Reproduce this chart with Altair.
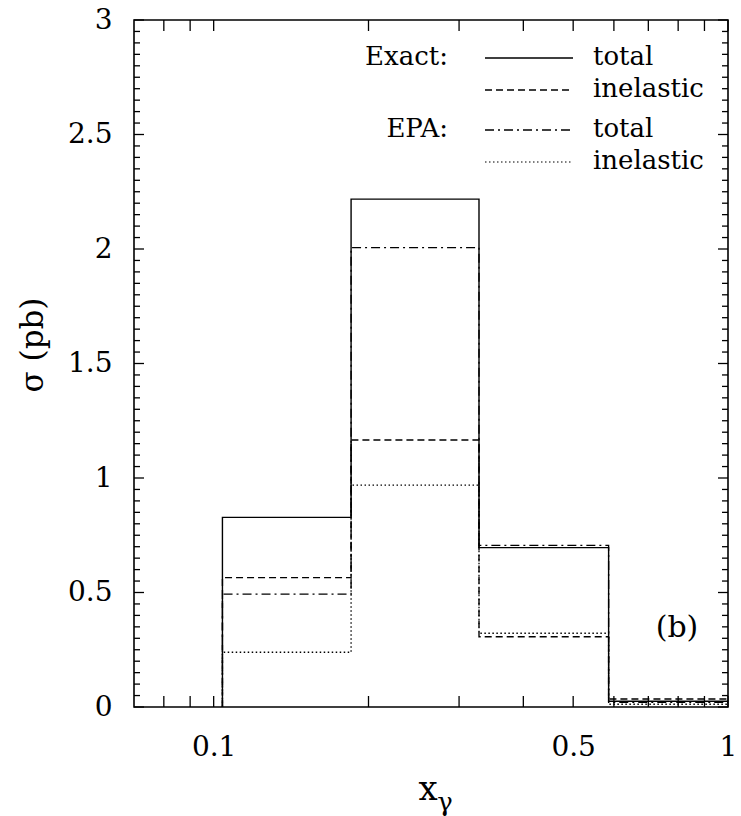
import altair as alt
import pandas as pd

# ---- data ----
bin_edges = [0.104, 0.185, 0.328, 0.586, 1.0]
exact_total = [0.828, 2.218, 0.696, 0.025]
exact_inelastic = [0.565, 1.166, 0.307, 0.035]
epa_total = [0.493, 2.006, 0.706, 0.020]
epa_inelastic = [0.239, 0.969, 0.322, 0.012]

series_names = ["Exact total", "Exact inelastic", "EPA total", "EPA inelastic"]
series_values = [exact_total, exact_inelastic, epa_total, epa_inelastic]

x_tick_values = [0.08, 0.09, 0.1, 0.2, 0.3, 0.4, 0.5, 0.6, 0.7, 0.8, 0.9, 1.0]
x_label_values = [0.1, 0.5, 1]
y_major_values = [0, 0.5, 1, 1.5, 2, 2.5, 3]
y_minor_values = [round(i * 0.05, 2) for i in range(61) if i % 10 != 0]

# ---- layout ----
W, H = 594, 687
FONT = "DejaVu Serif"
FS = 28
LFS = 26

rows = []
for name, vals in zip(series_names, series_values):
    pts = [(bin_edges[0], 0.0)] + [(bin_edges[i], vals[i]) for i in range(len(vals))] + [(bin_edges[-1], vals[-1])]
    for k, (xv, yv) in enumerate(pts):
        rows.append({"series": name, "x": xv, "y": yv, "i": k})
hist = pd.DataFrame(rows)

xscale = alt.Scale(type="log", domain=[0.07, 1.0], nice=False)
yscale = alt.Scale(domain=[0, 3], nice=False, zero=False)

x_axis = alt.Axis(values=x_label_values, format="~g", title=None, ticks=False,
                  tickSize=0, domain=False, grid=False, labelFont=FONT,
                  labelFontSize=FS, labelColor="black", labelPadding=26,
                  labelFlush=False, labelOverlap=False)
y_axis = alt.Axis(values=y_major_values, format="~g", title=None, ticks=False,
                  tickSize=0, domain=False, grid=False, labelFont=FONT,
                  labelFontSize=FS, labelColor="black", labelPadding=22,
                  labelOverlap=False)

dash_scale = alt.Scale(domain=series_names,
                       range=[[1, 0], [7, 4], [9, 4, 2, 4], [1.5, 2.5]])
width_scale = alt.Scale(domain=series_names, range=[1.4, 1.3, 1.3, 1.2])

lines = alt.Chart(hist).mark_line(interpolate="step-after", color="black").encode(
    x=alt.X("x:Q", scale=xscale, axis=x_axis),
    y=alt.Y("y:Q", scale=yscale, axis=y_axis),
    strokeDash=alt.StrokeDash("series:N", scale=dash_scale, legend=None),
    strokeWidth=alt.StrokeWidth("series:N", scale=width_scale, legend=None),
    detail="series:N",
    order="i:Q",
)

xt = pd.DataFrame({"x": x_tick_values})
ymaj = pd.DataFrame({"y": y_major_values})
ymin = pd.DataFrame({"y": y_minor_values})

def xtick(y1, y2):
    return alt.Chart(xt).mark_rule(color="black", strokeWidth=1.3).encode(
        x=alt.X("x:Q", scale=xscale, axis=x_axis),
        y=alt.value(y1), y2=alt.value(y2))

def ytick(df, x1, x2):
    return alt.Chart(df).mark_rule(color="black", strokeWidth=1.3).encode(
        y=alt.Y("y:Q", scale=yscale, axis=y_axis),
        x=alt.value(x1), x2=alt.value(x2))

ticks = [
    xtick(H, H - 11), xtick(0, 11),
    ytick(ymaj, 0, 10), ytick(ymaj, W - 10, W),
    ytick(ymin, 0, 6), ytick(ymin, W - 6, W),
]

one = pd.DataFrame({"a": [0]})

def text(s, x, y, align="left", size=LFS, angle=None):
    kw = dict(align=align, baseline="middle", font=FONT, fontSize=size, color="black")
    if angle is not None:
        kw["angle"] = angle
    return alt.Chart(one).mark_text(**kw).encode(
        x=alt.value(x), y=alt.value(y), text=alt.value(s))

def sample(y, dash, sw):
    return alt.Chart(one).mark_rule(color="black", strokeDash=dash, strokeWidth=sw).encode(
        x=alt.value(351), x2=alt.value(439), y=alt.value(y))

legend = [
    text("Exact:", 314, 37, align="right"),
    sample(38, [1, 0], 1.4), text("total", 459, 37),
    sample(70, [7, 4], 1.3), text("inelastic", 459, 69),
    text("EPA:", 314, 109, align="right"),
    sample(110, [9, 4, 2, 4], 1.3), text("total", 459, 109),
    sample(142, [1.5, 2.5], 1.2), text("inelastic", 459, 141),
    text("(b)", 543, 608, align="center", size=30),
]

titles = [
    text("x", 294, 770, align="center", size=34),
    text("γ", 311, 783, align="center", size=26),
    text("σ (pb)", -100, 325, align="center", size=31, angle=270),
]

chart = alt.layer(lines, *ticks, *legend, *titles).properties(
    width=W, height=H,
    autosize=alt.AutoSizeParams(type="none"),
    padding={"left": 134, "top": 20, "right": 13, "bottom": 109},
).configure_view(stroke="black", strokeWidth=1.6)

chart.save("out.html", embed_options={"renderer": "svg", "actions": False})
